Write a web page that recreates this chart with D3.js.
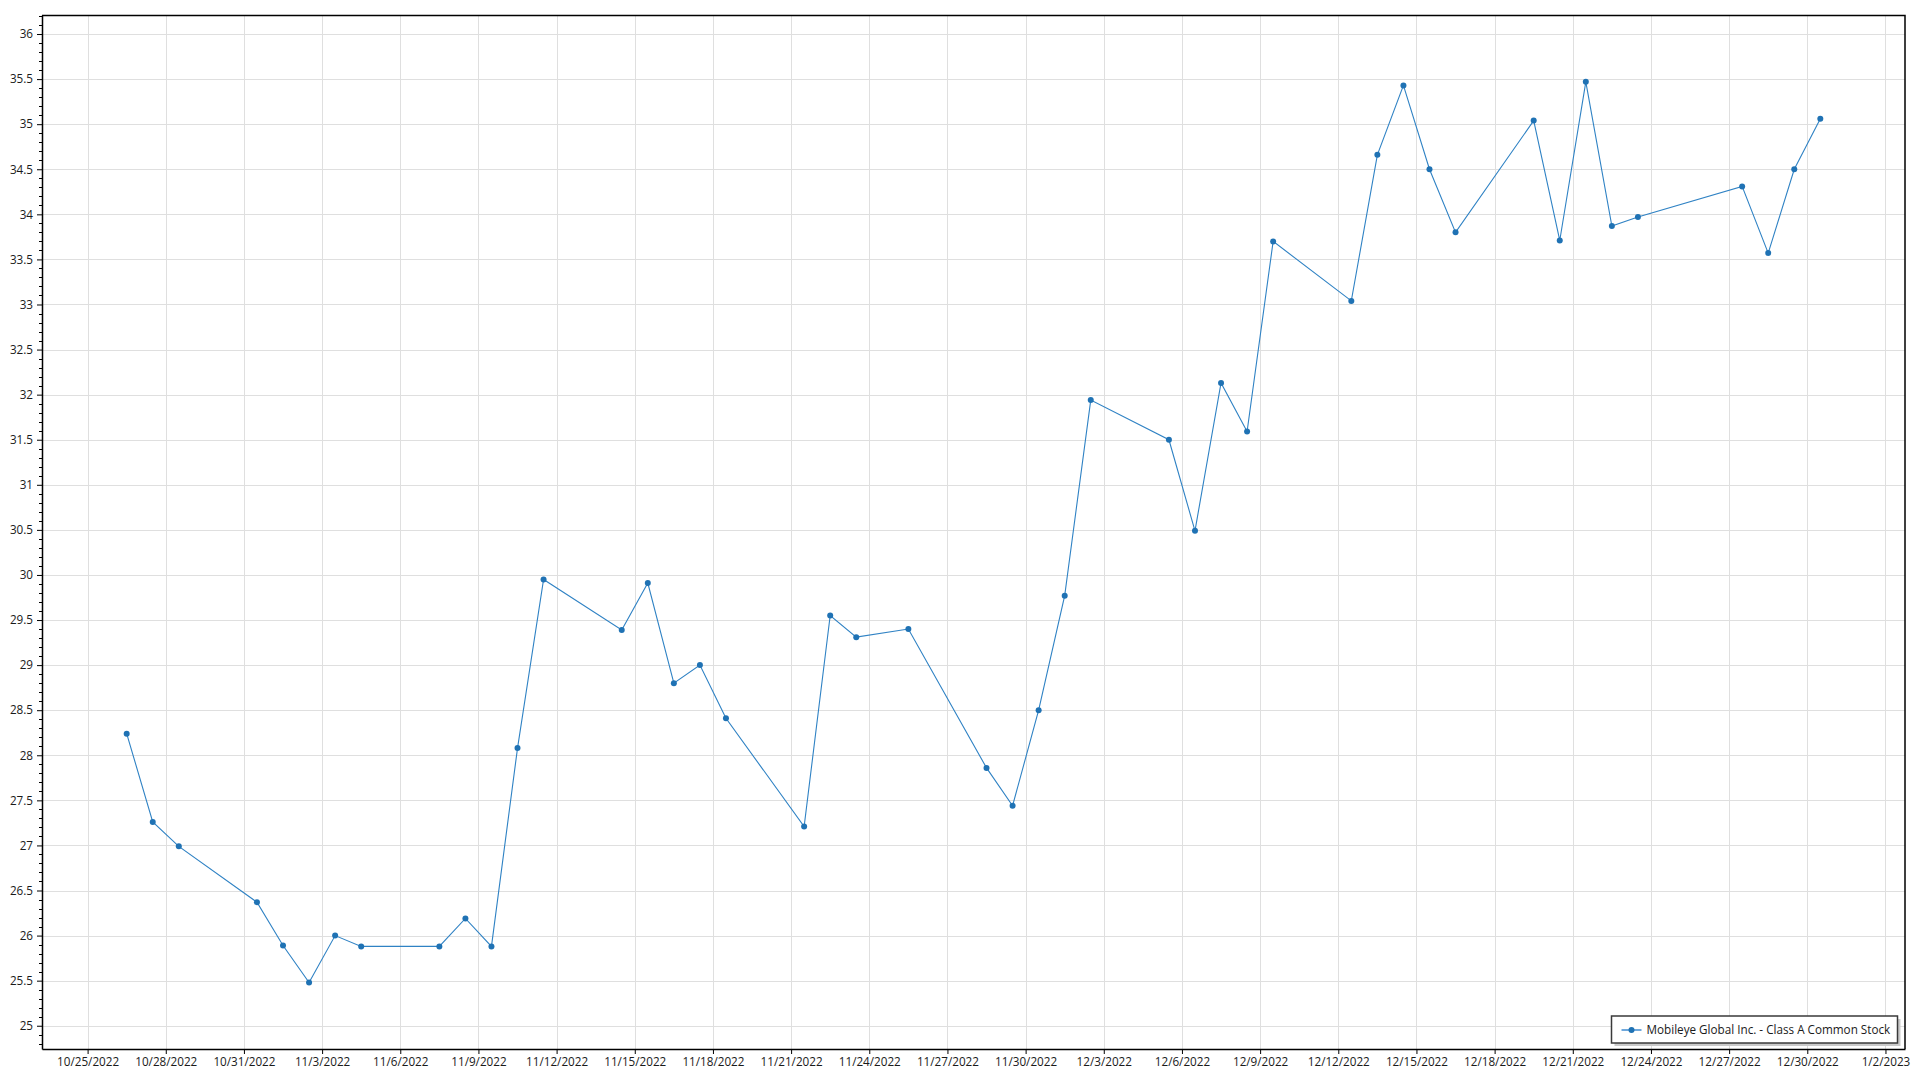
<!DOCTYPE html>
<html>
<head>
<meta charset="utf-8">
<script src="https://cdn.jsdelivr.net/npm/d3@7"></script>
<style>
  body { margin: 0; background: #ffffff; }
  svg { display: block; }
  text { font-family: "Open Sans", "Noto Sans", sans-serif; }
</style>
</head>
<body>
<svg id="chart" width="1920" height="1080"></svg>
<script>
// ---- data ----
const seriesName = "Mobileye Global Inc. - Class A Common Stock";
const dates = [
  "2022-10-26","2022-10-27","2022-10-28","2022-10-31","2022-11-01","2022-11-02","2022-11-03","2022-11-04",
  "2022-11-07","2022-11-08","2022-11-09","2022-11-10","2022-11-11",
  "2022-11-14","2022-11-15","2022-11-16","2022-11-17","2022-11-18",
  "2022-11-21","2022-11-22","2022-11-23","2022-11-25",
  "2022-11-28","2022-11-29","2022-11-30","2022-12-01","2022-12-02",
  "2022-12-05","2022-12-06","2022-12-07","2022-12-08","2022-12-09",
  "2022-12-12","2022-12-13","2022-12-14","2022-12-15","2022-12-16",
  "2022-12-19","2022-12-20","2022-12-21","2022-12-22","2022-12-23",
  "2022-12-27","2022-12-28","2022-12-29","2022-12-30"
];
const prices = [
  28.24, 27.26, 26.99, 26.37, 25.89, 25.48, 26.00, 25.88,
  25.88, 26.19, 25.88, 28.08, 29.95,
  29.39, 29.91, 28.80, 29.00, 28.41,
  27.21, 29.55, 29.31, 29.40,
  27.86, 27.44, 28.50, 29.77, 31.94,
  31.50, 30.49, 32.13, 31.59, 33.70,
  33.04, 34.66, 35.43, 34.50, 33.80,
  35.04, 33.71, 35.47, 33.87, 33.97,
  34.31, 33.57, 34.50, 35.06
];
const xTickLabels = [
  "10/25/2022","10/28/2022","10/31/2022","11/3/2022","11/6/2022","11/9/2022","11/12/2022",
  "11/15/2022","11/18/2022","11/21/2022","11/24/2022","11/27/2022","11/30/2022","12/3/2022",
  "12/6/2022","12/9/2022","12/12/2022","12/15/2022","12/18/2022","12/21/2022","12/24/2022",
  "12/27/2022","12/30/2022","1/2/2023"
];
const yTickLabels = ["25","25.5","26","26.5","27","27.5","28","28.5","29","29.5","30","30.5",
  "31","31.5","32","32.5","33","33.5","34","34.5","35","35.5","36"];
const yDomain = [24.742, 36.211];

// ---- layout ----
const W = 1920, H = 1080;
const m = { left: 42, top: 15, right: 15, bottom: 31 };
const iw = W - m.left - m.right, ih = H - m.top - m.bottom;

const parseDay = d3.timeParse("%Y-%m-%d");
const parseTick = d3.timeParse("%m/%d/%Y");
const data = dates.map((d, i) => ({ t: d3.timeHour.offset(parseDay(d), 12), v: prices[i] }));
const xTicks = xTickLabels.map(s => parseTick(s));
const yTicks = yTickLabels.map(Number);

const tExt = d3.extent(data, d => d.t);
const span = tExt[1] - tExt[0];
const x = d3.scaleTime()
  .domain([new Date(+tExt[0] - span * 0.05), new Date(+tExt[1] + span * 0.05)])
  .range([0, iw]);
const y = d3.scaleLinear().domain(yDomain).range([ih, 0]);

const svg = d3.select("#chart");
svg.append("rect").attr("width", W).attr("height", H).attr("fill", "#ffffff");
const g = svg.append("g").attr("transform", `translate(${m.left},${m.top})`);

// grid
g.append("g").selectAll("line").data(xTicks).join("line")
  .attr("x1", d => Math.round(x(d)) + 0.5).attr("x2", d => Math.round(x(d)) + 0.5)
  .attr("y1", 0).attr("y2", ih)
  .attr("stroke", "#dfdfdf").attr("stroke-width", 1);
g.append("g").selectAll("line").data(yTicks).join("line")
  .attr("y1", d => Math.round(y(d)) + 0.5).attr("y2", d => Math.round(y(d)) + 0.5)
  .attr("x1", 0).attr("x2", iw)
  .attr("stroke", "#dfdfdf").attr("stroke-width", 1);

// minor y ticks
const minor = d3.range(Math.ceil(yDomain[0] * 10), Math.floor(yDomain[1] * 10) + 1)
  .map(k => k / 10).filter(v => Math.abs(v * 2 - Math.round(v * 2)) > 1e-6);
g.append("g").selectAll("line").data(minor).join("line")
  .attr("x1", -3).attr("x2", 0)
  .attr("y1", d => Math.round(y(d)) + 0.5).attr("y2", d => Math.round(y(d)) + 0.5)
  .attr("stroke", "#000").attr("stroke-width", 1);

// axes
const yAxis = g.append("g")
  .call(d3.axisLeft(y).tickValues(yTicks).tickFormat((d, i) => yTickLabels[i]).tickSize(5).tickSizeOuter(0).tickPadding(4));
const xAxis = g.append("g").attr("transform", `translate(0,${ih})`)
  .call(d3.axisBottom(x).tickValues(xTicks).tickFormat((d, i) => xTickLabels[i]).tickSize(5).tickSizeOuter(0).tickPadding(4));
[yAxis, xAxis].forEach(a => {
  a.select(".domain").attr("stroke", "#000").attr("stroke-width", 1.5);
  a.selectAll(".tick line").attr("stroke", "#000");
  a.selectAll("text").attr("fill", "#1a1a1a").attr("font-size", 11.7);
});

// border (top, right)
g.append("path")
  .attr("d", `M0,0.5H${iw}V${ih}`)
  .attr("fill", "none").attr("stroke", "#000").attr("stroke-width", 1.5);

// line + markers
const line = d3.line().x(d => x(d.t)).y(d => y(d.v));
g.append("path").datum(data).attr("d", line)
  .attr("fill", "none").attr("stroke", "#2f82c4").attr("stroke-width", 1.1);
g.append("g").selectAll("circle").data(data).join("circle")
  .attr("cx", d => x(d.t)).attr("cy", d => y(d.v)).attr("r", 3)
  .attr("fill", "#1f72b4");

// legend
const lg = svg.append("g").attr("transform", "translate(1611.5,1016)");
lg.append("rect").attr("x", 3).attr("y", 3).attr("width", 286).attr("height", 27).attr("fill", "#c9c9c9");
lg.append("rect").attr("width", 286).attr("height", 27).attr("fill", "#ffffff")
  .attr("stroke", "#3a3a3a").attr("stroke-width", 1.5);
lg.append("line").attr("x1", 10).attr("x2", 30).attr("y1", 14).attr("y2", 14)
  .attr("stroke", "#6fa8dc").attr("stroke-width", 2);
lg.append("circle").attr("cx", 20).attr("cy", 14).attr("r", 3).attr("fill", "#1f72b4");
lg.append("text").attr("x", 35).attr("y", 18).attr("font-size", 11.7).attr("fill", "#1a1a1a")
  .text(seriesName);
</script>
</body>
</html>
